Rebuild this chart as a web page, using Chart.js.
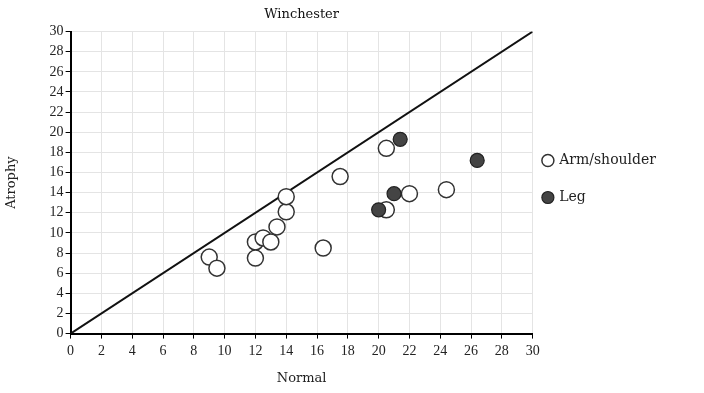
<!DOCTYPE html>
<html>
<head>
<meta charset="utf-8">
<script src="https://cdn.jsdelivr.net/npm/chart.js@4"></script>
<style>
  body { margin: 0; background: #fff; }
  #wrap { width: 704px; height: 393px; }
</style>
</head>
<body>
<div id="wrap"><canvas id="chart" width="704" height="393"></canvas></div>
<script>
// data
const armX = [9, 9.5, 12, 12, 12.5, 13, 13.4, 14, 14, 16.4, 17.5, 20.5, 20.5, 22, 24.4];
const armY = [7.6, 6.5, 9.1, 7.5, 9.5, 9.1, 10.6, 12.1, 13.6, 8.5, 15.6, 18.4, 12.3, 13.9, 14.3];
const legX = [20, 21, 21.4, 26.4];
const legY = [12.3, 13.9, 19.3, 17.2];
const lineX = [0, 30];
const lineY = [0, 30];
const xTicks = [0, 2, 4, 6, 8, 10, 12, 14, 16, 18, 20, 22, 24, 26, 28, 30];

const toPts = (xs, ys) => xs.map((x, i) => ({ x: x, y: ys[i] }));
const serif = "'Liberation Serif', 'DejaVu Serif', serif";
const wide = "'DejaVu Serif', serif";

// pull the legend a bit closer to the plot and center the title over the plot
const nudge = {
  id: "nudge",
  afterLayout(chart) {
    const lg = chart.legend;
    lg.left -= 12;
    lg.right -= 12;
    lg.top -= 18;
    lg.bottom -= 18;
    const tb = chart.titleBlock;
    tb.left = chart.chartArea.left;
    tb.right = chart.chartArea.right;
  },
};

new Chart(document.getElementById("chart"), {
  type: "scatter",
  data: {
    datasets: [
      {
        label: "Arm/shoulder",
        data: toPts(armX, armY),
        pointRadius: 8,
        pointBorderWidth: 1.5,
        borderColor: "#333",
        backgroundColor: "#fff",
        order: 1,
      },
      {
        label: "Leg",
        data: toPts(legX, legY),
        pointRadius: 7,
        pointBorderWidth: 1.2,
        borderColor: "#222",
        backgroundColor: "#444",
        order: 0,
      },
      {
        type: "line",
        label: "equal",
        data: toPts(lineX, lineY),
        borderColor: "#111",
        borderWidth: 2,
        pointRadius: 0,
        order: 2,
      },
    ],
  },
  options: {
    responsive: false,
    animation: false,
    layout: { padding: { top: 4, right: 26, left: 0, bottom: 3 } },
    scales: {
      x: {
        type: "linear",
        min: 0,
        max: 30,
        afterBuildTicks: (axis) => {
          axis.ticks = xTicks.map((v) => ({ value: v }));
        },
        grid: { color: "#e4e4e4", tickColor: "#000", tickLength: 5, lineWidth: 1 },
        border: { color: "#000", width: 2 },
        ticks: { color: "#222", font: { family: serif, size: 14 }, padding: 4, maxRotation: 0 },
        title: { display: true, text: "Normal", color: "#222", font: { family: wide, size: 13 }, padding: { top: 7 } },
      },
      y: {
        min: 0,
        max: 30,
        ticks: { stepSize: 2, color: "#222", font: { family: serif, size: 14 }, padding: 2 },
        grid: { color: "#e4e4e4", tickColor: "#000", tickLength: 5, lineWidth: 1 },
        border: { color: "#000", width: 2 },
        title: { display: true, text: "Atrophy", color: "#222", font: { family: wide, size: 13 }, padding: { bottom: 28 } },
      },
    },
    plugins: {
      title: {
        display: true,
        text: "Winchester",
        color: "#111",
        font: { family: wide, size: 13, weight: "normal" },
        padding: { top: 3, bottom: 9 },
      },
      legend: {
        position: "right",
        labels: {
          usePointStyle: true,
          pointStyle: "circle",
          boxWidth: 8.5,
          boxHeight: 8.5,
          padding: 23,
          color: "#222",
          font: { family: wide, size: 14 },
          filter: (item) => item.text !== "equal",
          sort: (a, b) => a.datasetIndex - b.datasetIndex,
        },
      },
      tooltip: { enabled: false },
    },
  },
  plugins: [nudge],
});
</script>
</body>
</html>
